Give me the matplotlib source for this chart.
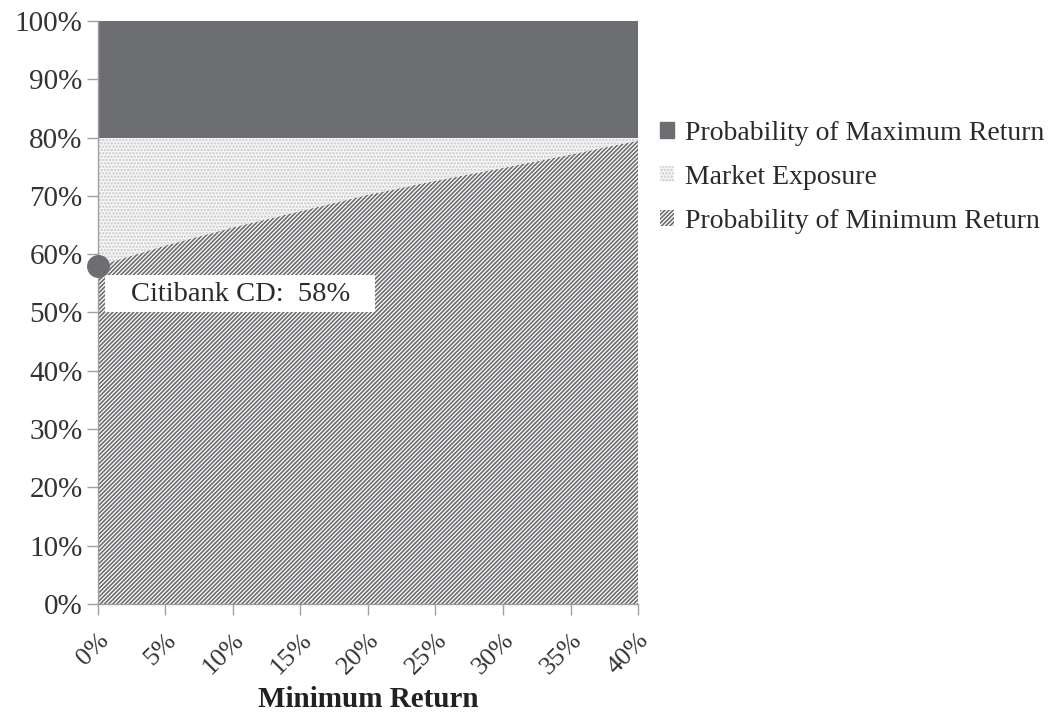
import matplotlib
matplotlib.use("Agg")
import matplotlib.pyplot as plt
from matplotlib.patches import Patch, Rectangle
import numpy as np

plt.rcParams['font.family'] = ['Liberation Serif', 'DejaVu Serif']
plt.rcParams['hatch.linewidth'] = 1.2

# Data
min_return = [0, 5, 10, 15, 20, 25, 30, 35, 40]              # % (x)
prob_min = [58, 61.5, 64.6, 67.4, 70.2, 72.6, 74.8, 77.1, 79.5]  # %
cap_level = [80] * 9                                       # top of market exposure
top_level = [100] * 9
x_ticks = [0, 5, 10, 15, 20, 25, 30, 35, 40]
y_ticks = [0, 10, 20, 30, 40, 50, 60, 70, 80, 90, 100]
series_names = ["Probability of Maximum Return", "Market Exposure", "Probability of Minimum Return"]
cd_label = "Citibank CD:  58%"
cd_value = 58

dark = '#6d6e71'
hatch_col = '#6d6e71'
dot_col = '#c8c8c8'
txt = '#333333'

fig = plt.figure(figsize=(10.57, 7.16), dpi=100)
ax = fig.add_axes([0.0927, 0.1564, 0.5109, 0.8143])

x = np.array(min_return)
ax.fill_between(x, 0, prob_min, facecolor='white', edgecolor=hatch_col, hatch='////////', linewidth=0)
ax.fill_between(x, prob_min, cap_level, facecolor='#f8f8f8', edgecolor=dot_col, hatch='.....', linewidth=0)
ax.fill_between(x, cap_level, top_level, facecolor=dark, edgecolor=dark, linewidth=0)

ax.set_xlim(0, 40)
ax.set_ylim(0, 100)
ax.set_xticks(x_ticks)
ax.set_xticklabels([f"{v}%" for v in x_ticks], rotation=45, ha='right', va='top',
                   rotation_mode='anchor', fontsize=19, color=txt)
ax.set_yticks(y_ticks)
ax.set_yticklabels([f"{v}%" for v in y_ticks], fontsize=21, color=txt)
for s in ['top', 'right']:
    ax.spines[s].set_visible(False)
for s in ['left', 'bottom']:
    ax.spines[s].set_color('#a0a0a0')
    ax.spines[s].set_linewidth(1.0)
ax.tick_params(axis='both', direction='out', length=8, color='#a0a0a0', width=1.0)
ax.tick_params(axis='x', pad=10)
ax.tick_params(axis='y', pad=3)
ax.set_xlabel("Minimum Return", fontsize=21, fontweight='bold', color='#222222', labelpad=5)

# annotation
ax.add_patch(Rectangle((0.5, 50.1), 20.0, 6.3, facecolor='white', edgecolor='none', zorder=4))
ax.text(10.6, 53.1, cd_label, fontsize=20.5, color='#2a2a2a', ha='center', va='center', zorder=5)
ax.plot([0], [cd_value], 'o', color=dark, markersize=15.5, clip_on=False, zorder=6)

handles = [Patch(facecolor=dark, edgecolor=dark),
           Patch(facecolor='#f8f8f8', edgecolor=dot_col, hatch='.....', linewidth=0),
           Patch(facecolor='white', edgecolor=hatch_col, hatch='////////', linewidth=0)]
leg = fig.legend(handles, series_names, loc='upper left', bbox_to_anchor=(0.601, 0.866),
                 frameon=False, fontsize=20, handlelength=0.5, handleheight=0.5,
                 handletextpad=0.4, labelspacing=0.68, labelcolor='#2a2a2a')

fig.savefig("out.png", dpi=100)
